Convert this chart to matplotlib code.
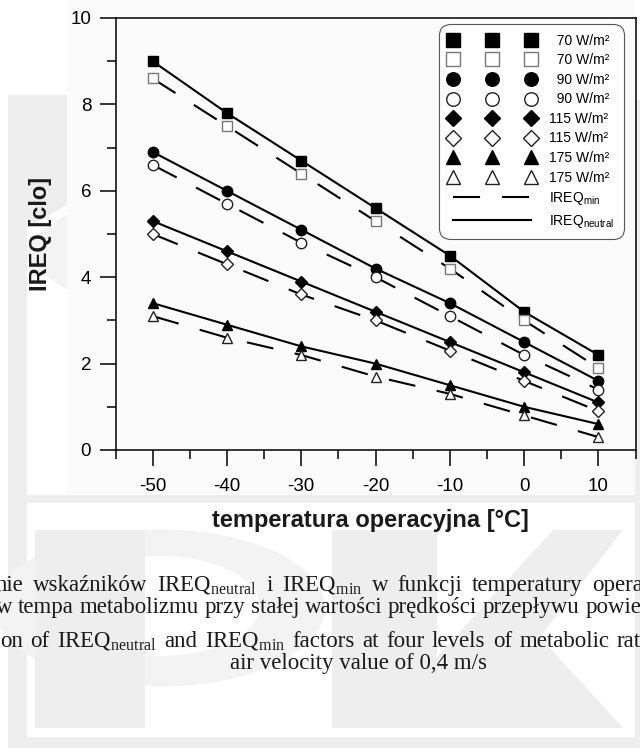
import matplotlib
matplotlib.use("Agg")
import matplotlib.pyplot as plt
from matplotlib.patches import Rectangle, Polygon, Ellipse
import numpy as np

# temperatura operacyjna [°C]
temps = [-50, -40, -30, -20, -10, 0, 10]

# IREQ [clo] at four metabolic rates, neutral and min
ireq_neutral_70 = [9.0, 7.8, 6.7, 5.6, 4.5, 3.2, 2.2]
ireq_min_70 = [8.6, 7.5, 6.4, 5.3, 4.2, 3.0, 1.9]
ireq_neutral_90 = [6.9, 6.0, 5.1, 4.2, 3.4, 2.5, 1.6]
ireq_min_90 = [6.6, 5.7, 4.8, 4.0, 3.1, 2.2, 1.4]
ireq_neutral_115 = [5.3, 4.6, 3.9, 3.2, 2.5, 1.8, 1.1]
ireq_min_115 = [5.0, 4.3, 3.6, 3.0, 2.3, 1.6, 0.9]
ireq_neutral_175 = [3.4, 2.9, 2.4, 2.0, 1.5, 1.0, 0.6]
ireq_min_175 = [3.1, 2.6, 2.2, 1.7, 1.3, 0.8, 0.3]

rates = ["70", "90", "115", "175"]
markers = ["s", "o", "D", "^"]
neutral = [ireq_neutral_70, ireq_neutral_90, ireq_neutral_115, ireq_neutral_175]
minimum = [ireq_min_70, ireq_min_90, ireq_min_115, ireq_min_175]

plt.rcParams["font.family"] = ["Liberation Sans", "DejaVu Sans"]
plt.rcParams["mathtext.default"] = "regular"
plt.rcParams["axes.unicode_minus"] = False

W, H = 640, 748
fig = plt.figure(figsize=(W / 100, H / 100), dpi=100)
fig.patch.set_facecolor("white")


def fx(px):
    return px / W


def fy(py):
    return 1 - py / H


def fig_poly(pts, color):
    fig.patches.append(Polygon([(fx(x), fy(y)) for x, y in pts], closed=True,
                               transform=fig.transFigure, facecolor=color,
                               edgecolor="none", zorder=-2))


# --- faint "PK" watermark of the page behind the chart
wm = "#eeeeee"
fig_poly([(8, 95), (67, 95), (67, 205), (27, 228), (27, 748), (8, 748)], wm)
fig_poly([(27, 240), (67, 214), (67, 290), (27, 262)], "#f3f3f3")
fig_poly([(27, 495), (635, 495), (635, 503), (27, 503)], wm)
fig_poly([(8, 737), (640, 737), (640, 748), (8, 748)], wm)
fig_poly([(635, 100), (640, 100), (640, 748), (635, 748)], wm)
# P
fig.patches.append(Ellipse((fx(160), fy(608)), fx(330), 157 / H, transform=fig.transFigure,
                           facecolor="#f3f3f3", edgecolor="none", zorder=-2))
fig.patches.append(Ellipse((fx(160), fy(606)), fx(200), 100 / H, transform=fig.transFigure,
                           facecolor="white", edgecolor="none", zorder=-2))
fig_poly([(35, 530), (145, 530), (145, 728), (35, 728)], wm)
# K
fig_poly([(332, 530), (437, 530), (437, 728), (332, 728)], wm)
fig_poly([(437, 657), (553, 530), (623, 530), (540, 637), (623, 728), (437, 728)], wm)

# chart image background
fig.patches.append(Rectangle((fx(67), fy(495)), fx(635 - 67), 495 / H, transform=fig.transFigure,
                             facecolor="#fbfbfb", edgecolor="none", zorder=-1))

ax = fig.add_axes([fx(115.5), fy(450), fx(635.5 - 115.5), (450 - 18) / H])
ax.set_facecolor("none")
ax.set_zorder(1)

handles = []
for rate, mk, yn, ym in zip(rates, markers, neutral, minimum):
    ms = 6.5 if mk == "D" else 7.5
    ax.plot(temps, yn, color="black", lw=1.5, zorder=2)
    ax.plot(temps, ym, color="black", lw=1.5, linestyle=(0, (13, 10.5)), zorder=2)
    hn, = ax.plot(temps, yn, linestyle="none", marker=mk, ms=ms, mfc="black", mec="black", zorder=3)
    ho, = ax.plot(temps, ym, linestyle="none", marker=mk, ms=ms, mfc="white",
                  mec="#777777" if mk == "s" else "#222222", mew=1.0, zorder=3)
    pad = "\u2007" * (3 - len(rate))
    handles.append((hn, pad + rate + " W/m²"))
    handles.append((ho, pad + rate + " W/m²"))

lmin, = ax.plot([], [], color="black", lw=1.5, linestyle=(0, (13, 10.5)))
lneu, = ax.plot([], [], color="black", lw=1.5)
handles.append((lmin, "IREQ$_{min}$"))
handles.append((lneu, "IREQ$_{neutral}$"))

leg = ax.legend([h for h, _ in handles], [l for _, l in handles], loc="upper right",
                bbox_to_anchor=((624 - 115.5) / 520, (450 - 24) / 432), borderaxespad=0,
                numpoints=3, handlelength=6.2, handletextpad=1.0, labelspacing=0.40,
                markerscale=1.3, fontsize=10, fancybox=True, framealpha=1,
                borderpad=0.7)
leg.get_frame().set_edgecolor("#555555")
leg.get_frame().set_linewidth(0.8)
leg.get_frame().set_boxstyle("round", pad=0, rounding_size=0.8)

ax.set_xlim(-55, 15)
ax.set_ylim(0, 10)
ax.set_xticks([-50, -40, -30, -20, -10, 0, 10])
ax.set_xticks(np.arange(-55, 16, 10), minor=True)
ax.set_yticks([0, 2, 4, 6, 8, 10])
ax.set_yticks([1, 3, 5, 7, 9], minor=True)
ax.tick_params(which="major", direction="out", length=11.5, width=1.1, labelsize=13.5, color="black")
ax.tick_params(which="minor", direction="out", length=6.5, width=1.1)
ax.tick_params(axis="x", which="major", pad=9)
ax.tick_params(axis="y", which="major", pad=6)
for s in ax.spines.values():
    s.set_linewidth(1.1)
    s.set_color("black")

ax.set_xlabel("temperatura operacyjna [°C]", fontsize=17, fontweight="bold", color="#1a1a1a")
ax.xaxis.set_label_coords(0.49, (450 - 527) / 432, transform=ax.transAxes)
ax.xaxis.label.set_va("baseline")
ax.set_ylabel("IREQ [clo]", fontsize=17, fontweight="bold", color="#1a1a1a")
ax.yaxis.set_label_coords((40 - 115.5) / 520, 0.5)
ax.yaxis.label.set_va("center")

# caption below the figure (cut by the page crop)
serif = ["Liberation Serif", "DejaVu Serif"]
cap = dict(family=serif, fontsize=16.5, color="#1a1a1a", va="baseline", ha="left")
renderer = fig.canvas.get_renderer()


def justified(words, y, x0, x1):
    # spread the words of one caption line between two page positions
    texts = [fig.text(0, fy(y), w, **cap) for w in words]
    widths = [t.get_window_extent(renderer).width for t in texts]
    gap = (x1 - x0 - sum(widths)) / (len(texts) - 1)
    x = x0
    for t, w in zip(texts, widths):
        t.set_x(fx(x))
        x += w + gap


justified(["nie", "wskaźników", "IREQ$_{neutral}$", "i", "IREQ$_{min}$",
           "w", "funkcji", "temperatury", "opera"], 591, -4, 643)
justified("w tempa metabolizmu przy stałej wartości prędkości przepływu powie".split(), 613, -4, 641)
justified(["on", "of", "IREQ$_{neutral}$", "and", "IREQ$_{min}$", "factors", "at", "four",
           "levels", "of", "metabolic", "rat"], 647, 0, 641)
fig.text(fx(230), fy(669), "air velocity value of 0,4 m/s", **cap)

fig.savefig("out.png", dpi=100)
